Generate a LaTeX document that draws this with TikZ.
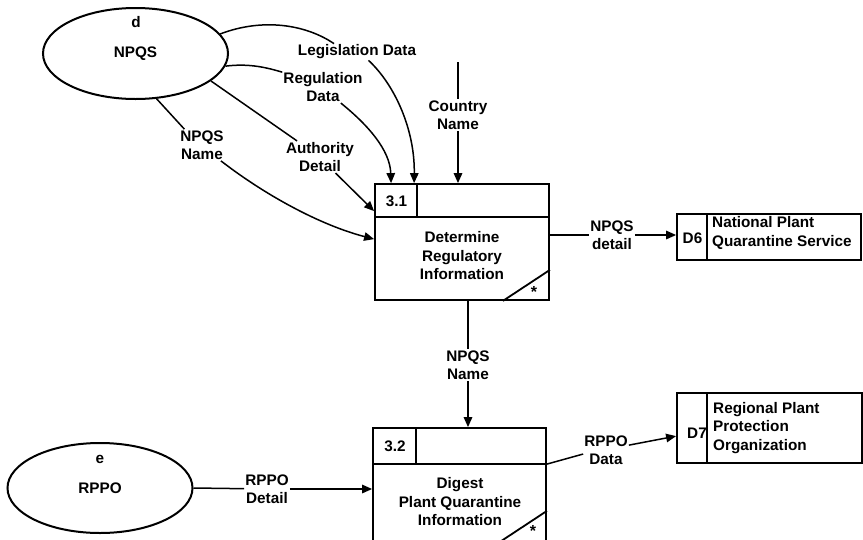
\documentclass[tikz,border=0pt]{standalone}
\usepackage{fontspec}
\setmainfont{Liberation Sans}
\usetikzlibrary{arrows.meta,calc,shapes.geometric}
\begin{document}
\begin{tikzpicture}[x=1pt,y=-1pt,
  font=\fontsize{15.3}{18.5}\selectfont\bfseries,
  lbl/.style={align=center,inner sep=1pt},
  ent/.style={ellipse,draw,line width=2pt,minimum width=185pt,minimum height=91pt,inner sep=0pt},
  boxst/.style={draw,line width=1.8pt,inner sep=0pt,rectangle},
  inner/.style={line width=1.8pt},
  flow/.style={line width=1.5pt},
  arr/.style={flow,-{Triangle[length=10pt,width=8.5pt]}},
  starst/.style={inner sep=0pt,anchor=north,font=\fontsize{16}{16}\selectfont\bfseries},
]
\useasboundingbox (0,0) rectangle (863,539);
\clip (0,0) rectangle (863,539);
\fill[white] (0,0) rectangle (863,539);

% external entities
\node[ent] (npqs) at (135.5,53.5) {NPQS};
\node[lbl] (npqsd) at (136,22) {d};
\node[ent,minimum height=90pt] (rppo) at (100,488) {RPPO};
\node[lbl] (rppoe) at (100,459) {e};

% process 3.1
\node[boxst,minimum width=174pt,minimum height=116pt] (p31) at (462,242) {};
\draw[inner] ($(p31.north west)+(0,34)$) -- ($(p31.north east)+(0,34)$);
\draw[inner] ($(p31.north west)+(43,0)$) -- ($(p31.north west)+(43,34)$);
\draw[inner] ($(p31.south east)+(-47,0)$) -- ($(p31.south east)+(0,-31)$);
\node[lbl] (p31n) at (396.5,201) {3.1};
\node[lbl] (p31t) at (462,256) {Determine\\Regulatory\\Information};
\node[starst] (p31s) at ($(p31.south east)+(-16,-15)$) {*};

% process 3.2
\node[boxst,minimum width=173pt,minimum height=113pt] (p32) at (459.5,484.5) {};
\draw[inner] ($(p32.north west)+(0,37)$) -- ($(p32.north east)+(0,37)$);
\draw[inner] ($(p32.north west)+(44,0)$) -- ($(p32.north west)+(44,37)$);
\draw[inner] ($(p32.south east)+(-47,0)$) -- ($(p32.south east)+(0,-31)$);
\node[lbl] (p32n) at (395,446.5) {3.2};
\node[lbl] (p32t) at (460,502) {Digest\\Plant Quarantine\\Information};
\node[starst] (p32s) at ($(p32.south east)+(-14,-17)$) {*};

% data stores
\node[boxst,minimum width=184pt,minimum height=46pt] (d6) at (769,237) {};
\draw[inner] ($(d6.north west)+(31,0)$) -- ($(d6.south west)+(31,0)$);
\node[lbl] (d6id) at (692.5,238) {D6};
\node[lbl,align=left,anchor=west] (d6t) at (711,233) {National Plant\\Quarantine Service};

\node[boxst,minimum width=185pt,minimum height=70pt] (d7) at (769.5,428) {};
\draw[inner] ($(d7.north west)+(31,0)$) -- ($(d7.south west)+(31,0)$);
\node[lbl] (d7id) at (697,433) {D7};
\node[lbl,align=left,anchor=west] (d7t) at (712,428) {Regional Plant\\Protection\\Organization};

% flow labels
\node[lbl] (legis) at (357,52) {Legislation Data};
\node[lbl] (reg) at (323,87) {Regulation\\Data};
\node[lbl] (auth) at (320,157) {Authority\\Detail};
\node[lbl] (nname) at (202,145) {NPQS\\Name};
\node[lbl] (cname) at (458,115) {Country\\Name};
\node[lbl] (ndet) at (612,235) {NPQS\\detail};
\node[lbl] (nname2) at (468,365) {NPQS\\Name};
\node[lbl] (rdet) at (267,489) {RPPO\\Detail};
\node[lbl] (rdata) at (606,450) {RPPO\\Data};
\coordinate (ctop) at (458,62);

% flows
\draw[flow] (npqs.13) .. controls (262,18) and (305,24) .. (legis.160);
\draw[arr] (legis.-36) .. controls (395,85) and (415,130) .. ($(p31.north west)+(40,0)$);

\draw[flow] (npqs.-8) .. controls (250,63) and (268,68) .. (reg.160);
\draw[arr] (reg.-42) .. controls (368,125) and (390,150) .. ($(p31.north west)+(17,0)$);

\draw[flow] (npqs.-20) -- (auth.145);
\draw[arr] (auth.-46) -- ($(p31.north west)+(0,28)$);

\draw[flow] (npqs.-65) -- (nname.138);
\draw[arr] (nname.-40) .. controls (265,195) and (320,225) .. ($(p31.north west)+(0,56)$);

\draw[flow] (ctop) -- (cname);
\draw[arr] (cname) -- (cname |- p31.north);

\draw[flow] (p31.east |- ndet) -- (ndet);
\draw[arr] (ndet) -- (ndet -| d6.west);

\draw[flow] (nname2 |- p31.south) -- (nname2);
\draw[arr] (nname2) -- (nname2 |- p32.north);

\draw[flow] (rppo.east) -- (rdet);
\draw[arr] (rdet) -- (rdet -| p32.west);

\draw[flow] ($(p32.north east)+(0,37)$) -- (rdata.190);
\draw[arr] (rdata.12) -- ($(d7.north west)+(0,44)$);
\end{tikzpicture}
\end{document}
